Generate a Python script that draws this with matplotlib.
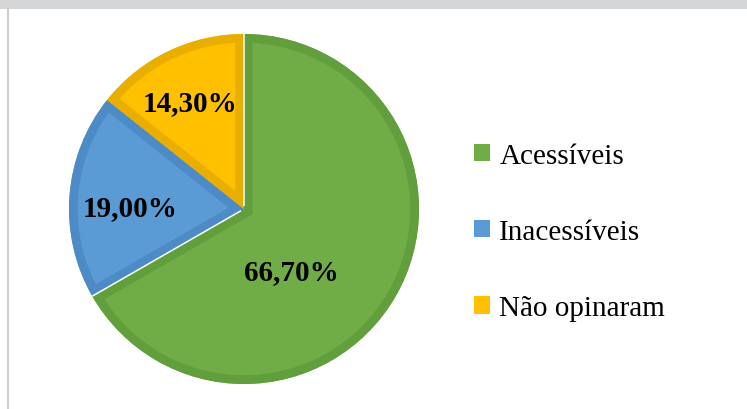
import numpy as np
import matplotlib.pyplot as plt
from matplotlib.patches import Patch, Rectangle, Wedge
from matplotlib.lines import Line2D

categorias = ["Acessíveis", "Inacessíveis", "Não opinaram"]
percentuais = [66.70, 19.00, 14.30]
cores = ["#70ad47", "#5b9bd5", "#ffc000"]
bordas = ["#619e3c", "#4c8bc6", "#e9ae00"]

fig = plt.figure(figsize=(7.47, 4.10), dpi=100)
fig.patch.set_facecolor("white")

# faixa cinza no topo e linha na lateral esquerda
fig.add_artist(Rectangle((0, 1 - 10 / 410), 1, 10 / 410, transform=fig.transFigure,
                         facecolor="#d4d5d7", edgecolor="none"))
fig.add_artist(Line2D([8 / 747, 8 / 747], [0, 1 - 10 / 410], transform=fig.transFigure,
                      color="#d0d0d0", linewidth=1.6))

ax = fig.add_axes([69 / 747, 25 / 410, 350 / 747, 350 / 410])
ax.set_aspect("equal")


def rotulo(v):
    return ("%.2f%%" % v).replace(".", ",")


wedges, textos = ax.pie(percentuais, colors=cores, startangle=90, counterclock=False,
                        radius=1.0, wedgeprops=dict(edgecolor="none"))

# borda interna mais escura: contorno grosso recortado pela propria fatia
for w, b in zip(wedges, bordas):
    recorte = Wedge(w.center, w.r, w.theta1, w.theta2, transform=ax.transData)
    contorno = Wedge(w.center, w.r, w.theta1, w.theta2, facecolor="none",
                     edgecolor=b, linewidth=12.5, zorder=w.get_zorder() + 0.1)
    ax.add_patch(contorno)
    contorno.set_clip_path(recorte)

# linhas brancas finas nas divisas da fatia verde
verde = wedges[0]
for ang in (verde.theta1, verde.theta2):
    t = np.deg2rad(ang)
    ax.plot([0.02 * np.cos(t), np.cos(t)], [0.02 * np.sin(t), np.sin(t)],
            color="white", linewidth=1.1, solid_capstyle="butt", zorder=3)

# rótulos de percentual
posicoes = [(0.27, -0.36), (-0.65, 0.01), (-0.31, 0.61)]
for v, (x, y) in zip(percentuais, posicoes):
    ax.text(x, y, rotulo(v), ha="center", va="center", fontsize=21,
            fontweight="bold", family="Liberation Serif", color="black", zorder=4)

ax.set_xlim(-1.0, 1.0)
ax.set_ylim(-1.0, 1.0)

handles = [Patch(facecolor=c, edgecolor="none") for c in cores]
fig.legend(handles, categorias, loc="center left", bbox_to_anchor=(0.6, 0.432),
           frameon=False, prop={"family": "Liberation Serif", "size": 21},
           handlelength=0.55, handleheight=0.55, handletextpad=0.3, labelspacing=1.72)

fig.savefig("out.png", dpi=100)
